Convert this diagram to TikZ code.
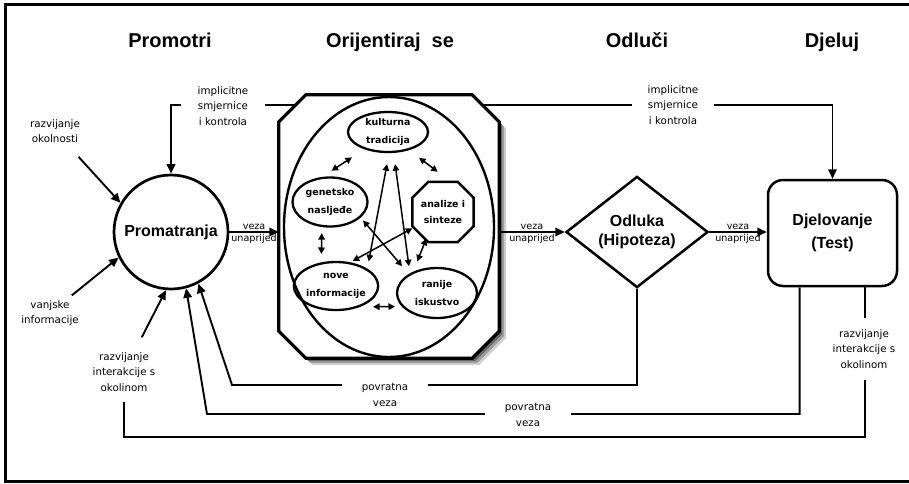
\documentclass[tikz,border=0pt]{standalone}
\usepackage{fontspec}
\setmainfont{Liberation Sans}
\newfontfamily\dv{DejaVu Sans}
\usetikzlibrary{arrows.meta,shapes.geometric,shadows,calc}
\begin{document}
\begin{tikzpicture}[x=1pt,y=-1pt,
 ln/.style={line width=1.9pt},
 arr/.style={ln,-{Triangle[length=9.5pt,width=8.5pt]}},
 dbl/.style={line width=1.5pt,{Triangle[length=6.5pt,width=6.5pt]}-{Triangle[length=6.5pt,width=6.5pt]}},
 lbl/.style={font=\dv\fontsize{10.3}{15.5}\selectfont,align=center,inner sep=2pt},
 lblw/.style={lbl,fill=white},
 vz/.style={font=\dv\fontsize{9.6}{11}\selectfont,inner sep=1.5pt},
 ttl/.style={font=\bfseries\fontsize{20}{24}\selectfont,anchor=base},
 bigtxt/.style={font=\bfseries\fontsize{16}{19}\selectfont,align=center},
 inn/.style={draw,line width=2.3pt,ellipse,inner sep=0pt,font=\dv\bfseries\fontsize{9.4}{18}\selectfont,align=center},
]
\useasboundingbox (0,0) rectangle (909,483);
% frame
\draw[line width=3pt] (909,4) -- (5.5,4) -- (5.5,481) -- (909,481);
% titles
\node[ttl] (t1) at (170,47) {Promotri};
\node[ttl] (t2) at (390,47) {Orijentiraj\ \ se};
\node[ttl] (t3) at (637,47) {Odluči};
\node[ttl] (t4) at (832,47) {Djeluj};
% helper coordinates
\coordinate (top) at (0,105);
\coordinate (c1) at (232,385);
\coordinate (c2) at (207,414);
\coordinate (c3) at (124,437);
% main nodes
\node[circle,draw,line width=2.7pt,minimum size=114pt,inner sep=0,bigtxt] (circ) at (171,232) {Promatranja};
\node[minimum width=220pt,minimum height=263pt,inner sep=0] (ori) at (389,226.5) {};
\node[diamond,draw,line width=2.5pt,minimum width=142pt,minimum height=99pt,inner sep=0,bigtxt] (dia) at (637,232) {Odluka\\(Hipoteza)};
\node[draw,rounded corners=15pt,line width=2.5pt,minimum width=129pt,minimum height=106pt,bigtxt,font=\bfseries\fontsize{16}{23}\selectfont] (act) at (832.5,233) {Djelovanje\\(Test)};
% implicit guidance line
\draw[ln,{Triangle[length=9.5pt,width=8.5pt]}-{Triangle[length=9.5pt,width=8.5pt]}] (circ.north) -- (circ.north |- top) -| (act.north);
% octagon with shadow
\draw[line width=3.3pt,fill=white,
 general shadow={shadow xshift=7pt,shadow yshift=-7pt,fill=black,opacity=0.18},
 general shadow={shadow xshift=5pt,shadow yshift=-5pt,fill=black,opacity=0.25},
 general shadow={shadow xshift=3pt,shadow yshift=-3pt,fill=black,opacity=0.35}]
 ([yshift=-27pt]ori.north west) -- ([xshift=27pt]ori.north west) -- ([xshift=-27pt]ori.north east) -- ([yshift=-27pt]ori.north east)
 -- ([yshift=27pt]ori.south east) -- ([xshift=-27pt]ori.south east) -- ([xshift=27pt]ori.south west) -- ([yshift=27pt]ori.south west) -- cycle;
\node[draw,line width=2.4pt,ellipse,minimum width=210pt,minimum height=260pt] (bige) at (389,227) {};
% inner nodes
\node[inn,minimum width=80pt,minimum height=40pt] (kul) at (388,132) {kulturna\\tradicija};
\node[inn,minimum width=75pt,minimum height=49pt] (gen) at (330,202) {genetsko\\nasljeđe};
\node[inn,minimum width=83pt,minimum height=48pt] (nov) at (336,286) {nove\\informacije};
\node[inn,minimum width=80pt,minimum height=50pt] (ran) at (437,293) {ranije\\iskustvo};
\node[minimum width=61pt,minimum height=60pt,inner sep=0,font=\dv\bfseries\fontsize{9.4}{16}\selectfont,align=center] (ana) at (443,212) {analize i\\sinteze};
\draw[line width=2.5pt] ([yshift=-16pt]ana.north west) -- ([xshift=16pt]ana.north west) -- ([xshift=-16pt]ana.north east) -- ([yshift=-16pt]ana.north east)
 -- ([yshift=16pt]ana.south east) -- ([xshift=-16pt]ana.south east) -- ([xshift=16pt]ana.south west) -- ([yshift=16pt]ana.south west) -- cycle;
% inner arrows
\draw[dbl,shorten <=14.7pt,shorten >=11pt] (kul.216) -- (gen.107);
\draw[dbl,shorten <=12.7pt,shorten >=16.7pt] (kul.-41) -- (ana.75);
\draw[dbl,shorten <=6pt,shorten >=8.4pt] (gen.-108) -- (nov.122);
\draw[dbl,shorten <=13pt,shorten >=6.8pt] (nov.-41) -- (ran.-159);
\draw[dbl,shorten <=11.2pt,shorten >=7.4pt] (kul.-87) -- (nov.29);
\draw[dbl,shorten <=11.3pt,shorten >=7.1pt] (kul.-75) -- (ran.144);
\draw[dbl,shorten <=3.7pt,shorten >=10.3pt] (gen.-27) -- (ran.146);
\draw[dbl,shorten >=2.8pt] (ana.-152) -- (nov.59);
\draw[dbl,shorten <=11pt,shorten >=-3.8pt] (ran.138) -- (ana.-121);
% forward arrows
\draw[arr] (circ.east) -- (circ.east -| ori.west) node[vz,midway,above]{veza} node[vz,midway,below]{unaprijed};
\draw[arr] (ori.east |- dia.west) -- (dia.west) node[vz,midway,above]{veza} node[vz,midway,below]{unaprijed};
\draw[arr] (dia.east) -- (dia.east -| act.west) node[vz,midway,above]{veza} node[vz,midway,below]{unaprijed};
% left labels
\node[lbl] (ro) at (55,131) {razvijanje\\okolnosti};
\node[lbl] (vi) at (50,313) {vanjske\\informacije};
\node[lbl] (ri) at (124,372) {razvijanje\\interakcije s\\okolinom};
\draw[arr,shorten <=35pt] (ro.center) -- (circ.150);
\draw[arr,shorten <=28pt] (vi.center) -- (circ.206);
\draw[arr,shorten <=39pt] (ri.center) -- (circ.-95);
% feedback
\draw[arr] (dia.south) |- (c1) -- (circ.-62);
\draw[arr] ($(act.south west)!0.25!(act.south east)$) |- (c2) -- (circ.-75);
\draw[ln,shorten >=8pt] ($(act.south west)!0.75!(act.south east)$) |- (c3) -- (ri);
% labels breaking lines
\node[lblw,inner xsep=17pt] (im1) at (223,106) {implicitne\\smjernice\\i kontrola};
\node[lblw,inner xsep=16pt] (im2) at (673,105) {implicitne\\smjernice\\i kontrola};
\node[lblw,inner xsep=20pt] (pv1) at (385,395) {povratna\\veza};
\node[lblw,inner xsep=20pt] (pv2) at (528,415) {povratna\\veza};
\node[lblw,inner ysep=12pt,inner xsep=2pt] (ri2) at (864,349) {razvijanje\\interakcije s\\okolinom};
\end{tikzpicture}
\end{document}
